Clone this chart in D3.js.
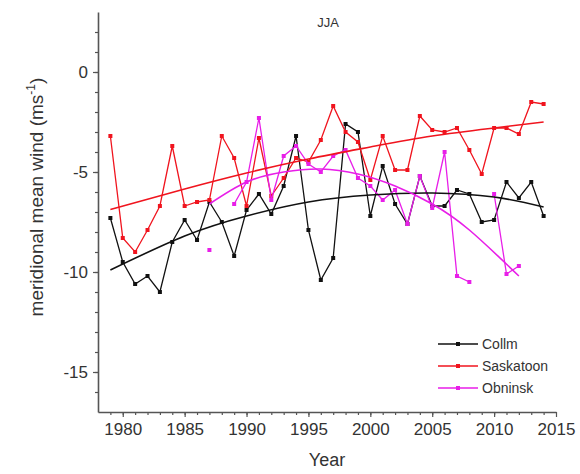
<!DOCTYPE html>
<html>
<head>
<meta charset="utf-8">
<script src="https://cdn.jsdelivr.net/npm/d3@7"></script>
<style>
  body { margin: 0; background: #fff; }
  text { font-family: "Liberation Sans", Arial, sans-serif; fill: #333; }
</style>
</head>
<body>
<script>
// years shared by all three stations
var years = d3.range(1979, 2015);

// meridional mean wind, JJA (m/s)
var collm = [-7.3, -9.5, -10.6, -10.2, -11.0, -8.5, -7.4, -8.4, -6.5, -7.5,
  -9.2, -6.9, -6.1, -7.1, -5.7, -3.2, -7.9, -10.4, -9.3, -2.6,
  -3.0, -7.2, -4.7, -6.6, -7.6, -5.2, -6.7, -6.7, -5.9, -6.1,
  -7.5, -7.4, -5.5, -6.3, -5.5, -7.2];
var saskatoon = [-3.2, -8.3, -9.0, -7.9, -6.7, -3.7, -6.7, -6.5, -6.4, -3.2,
  -4.3, -6.7, -3.3, -6.2, -5.3, -4.3, -4.5, -3.4, -1.7, -3.0,
  -3.5, -5.4, -3.2, -4.9, -4.9, -2.2, -2.9, -3.0, -2.8, -3.9,
  -5.1, -2.8, -2.8, -3.1, -1.5, -1.6];
var obninsk = [null, null, null, null, null, null, null, null, -8.9, null,
  -6.6, -5.5, -2.3, -6.4, -4.2, -3.7, -4.6, -5.0, -4.2, -3.9,
  -5.3, -5.7, -6.4, -5.9, -7.6, -5.2, -6.8, -4.0, -10.2, -10.5,
  null, -6.1, -10.1, -9.7, null, null];

var collmFitYears = [1979, 1985, 1990, 1995, 2000, 2005, 2010, 2014];
var collmFit = [-9.9, -8.2, -7.2, -6.5, -6.15, -6.05, -6.25, -6.75];
var saskFitYears = [1979, 1985, 1990, 1995, 2000, 2005, 2010, 2014];
var saskFit = [-6.87, -5.85, -5.05, -4.35, -3.75, -3.2, -2.8, -2.5];
var obnFitYears = [1987, 1990, 1993, 1996, 1999, 2002, 2005, 2008, 2012];
var obnFit = [-6.6, -5.5, -5.0, -4.85, -5.1, -5.7, -6.6, -7.9, -10.2];

var xTicks = [1980, 1985, 1990, 1995, 2000, 2005, 2010, 2015];
var yTicks = [-15, -10, -5, 0];

var series = [
  { name: "Collm", values: collm, fx: collmFitYears, fy: collmFit, color: "#111" },
  { name: "Saskatoon", values: saskatoon, fx: saskFitYears, fy: saskFit, color: "#f0141e" },
  { name: "Obninsk", values: obninsk, fx: obnFitYears, fy: obnFit, color: "#e81ee8" }
];

var width = 580, height = 474;
var margin = { top: 12, left: 98, right: 24, bottom: 62 };

var svg = d3.select("body").append("svg")
  .attr("width", width)
  .attr("height", height);

var x = d3.scaleLinear().domain([1978, 2015]).range([margin.left, width - margin.right]);
var y = d3.scaleLinear().domain([-17, 3]).range([height - margin.bottom, margin.top]);

// minor ticks first, then the labelled axes on top
svg.append("g")
  .attr("transform", "translate(0," + y(-17) + ")")
  .call(d3.axisBottom(x).tickValues(d3.range(1979, 2015)).tickSize(3).tickFormat(""))
  .call(function(g) { g.select(".domain").remove(); });
svg.append("g")
  .attr("transform", "translate(" + x(1978) + ",0)")
  .call(d3.axisLeft(y).tickValues(d3.range(-16, 3)).tickSize(3).tickFormat(""))
  .call(function(g) { g.select(".domain").remove(); });

var xAxis = svg.append("g")
  .attr("transform", "translate(0," + y(-17) + ")")
  .call(d3.axisBottom(x).tickValues(xTicks).tickSize(5).tickSizeOuter(0).tickPadding(6).tickFormat(d3.format("d")));
var yAxis = svg.append("g")
  .attr("transform", "translate(" + x(1978) + ",0)")
  .call(d3.axisLeft(y).tickValues(yTicks).tickSize(5).tickSizeOuter(0).tickPadding(5)
    .tickFormat(function(d) { return String(d); }));

svg.selectAll(".domain").attr("stroke", "#555").attr("stroke-width", 1.6);
svg.selectAll(".tick line").attr("stroke", "#555").attr("stroke-width", 1.2);
svg.selectAll(".tick text").style("font-size", "17px").attr("fill", "#333");

// title and axis labels
svg.append("text")
  .attr("x", 328).attr("y", 27)
  .attr("text-anchor", "middle")
  .style("font-size", "13px")
  .text("JJA");

svg.append("text")
  .attr("x", 327).attr("y", 466)
  .attr("text-anchor", "middle")
  .style("font-size", "18px")
  .text("Year");

var yl = svg.append("text")
  .attr("transform", "translate(43,197) rotate(-90)")
  .attr("text-anchor", "middle")
  .style("font-size", "19px");
yl.append("tspan").text("meridional mean wind (ms");
yl.append("tspan").attr("dy", -8).style("font-size", "12px").text("-1");
yl.append("tspan").attr("dy", 8).text(")");

// data lines and markers
var line = d3.line()
  .defined(function(d) { return d[1] != null; })
  .x(function(d) { return x(d[0]); })
  .y(function(d) { return y(d[1]); });

var fitLine = d3.line()
  .curve(d3.curveNatural)
  .x(function(d) { return x(d[0]); })
  .y(function(d) { return y(d[1]); });

series.forEach(function(s) {
  var pts = years.map(function(yr, i) { return [yr, s.values[i]]; });
  svg.append("path")
    .datum(pts)
    .attr("fill", "none")
    .attr("stroke", s.color)
    .attr("stroke-width", 1.3)
    .attr("d", line);
  svg.selectAll(null)
    .data(pts.filter(function(d) { return d[1] != null; }))
    .enter().append("rect")
    .attr("x", function(d) { return x(d[0]) - 2; })
    .attr("y", function(d) { return y(d[1]) - 2; })
    .attr("width", 4).attr("height", 4)
    .attr("fill", s.color);
});

series.forEach(function(s) {
  svg.append("path")
    .datum(s.fx.map(function(yr, i) { return [yr, s.fy[i]]; }))
    .attr("fill", "none")
    .attr("stroke", s.color)
    .attr("stroke-width", 1.6)
    .attr("d", fitLine);
});

// legend
var legend = svg.append("g").attr("transform", "translate(438,344)");
series.forEach(function(s, i) {
  var g = legend.append("g").attr("transform", "translate(0," + i * 22 + ")");
  g.append("line").attr("x1", 0).attr("x2", 40).attr("stroke", s.color).attr("stroke-width", 1.6);
  g.append("rect").attr("x", 18).attr("y", -2).attr("width", 4).attr("height", 4).attr("fill", s.color);
  g.append("text").attr("x", 44).attr("y", 5).style("font-size", "14px").text(s.name);
});
</script>
</body>
</html>
